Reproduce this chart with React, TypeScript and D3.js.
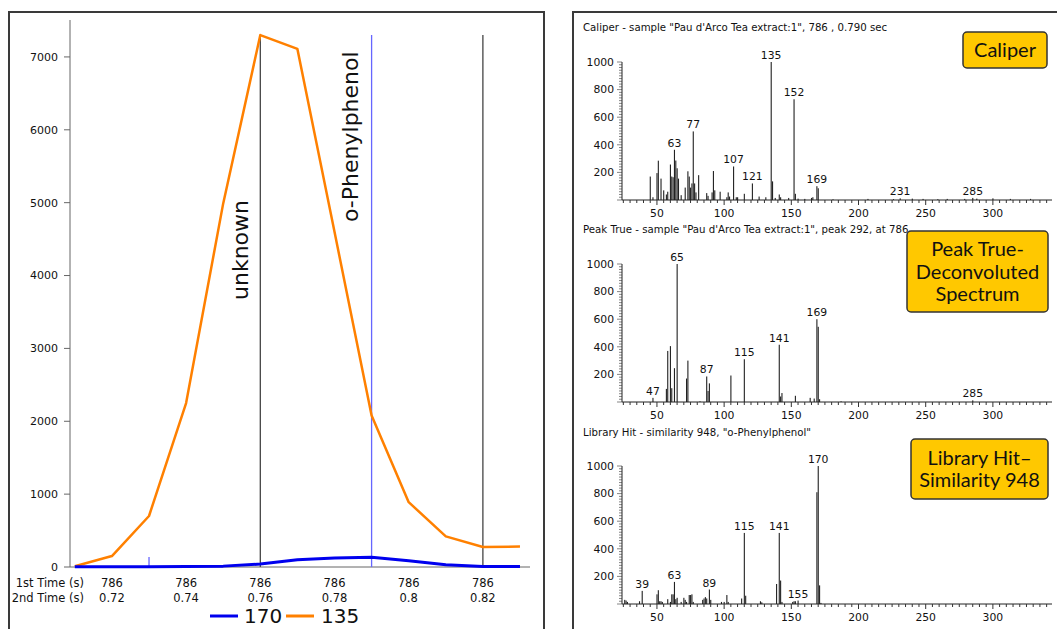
import React from "react";
import * as d3 from "d3";

// ---- chromatogram (left) ----
const times = [0.71, 0.72, 0.73, 0.74, 0.75, 0.76, 0.77, 0.78, 0.79, 0.8, 0.81, 0.82, 0.83];
const ion135 = [10, 150, 700, 2250, 4990, 7300, 7110, 4600, 2080, 890, 420, 275, 280];
const ion170 = [2, 3, 5, 8, 12, 40, 100, 125, 135, 85, 30, 8, 8];
const timeTicks = [0.72, 0.74, 0.76, 0.78, 0.8, 0.82];
const firstTimeLabels = ["786", "786", "786", "786", "786", "786"];
const secondTimeLabels = ["0.72", "0.74", "0.76", "0.78", "0.8", "0.82"];
const yTicks = [0, 1000, 2000, 3000, 4000, 5000, 6000, 7000];
const peakTimes = [0.76, 0.79, 0.82];
const peakNames = ["unknown", "o-Phenylphenol", ""];
const markerTimes = [0.73];
const seriesNames = ["170", "135"];

// ---- spectra (right) ----
const caliperPeaks: [number, number][] = [
  [45, 170], [47, 20], [50, 195], [51, 285], [53, 155], [55, 70], [57, 40], [58, 60],
  [60, 257], [61, 170], [62, 165], [63, 364], [64, 286], [65, 230], [66, 155], [68, 35],
  [71, 90], [73, 208], [74, 170], [75, 90], [76, 120], [77, 497], [78, 120], [79, 55],
  [81, 180], [87, 50], [88, 30], [91, 55], [92, 210], [93, 70], [97, 60], [102, 20],
  [103, 55], [104, 25], [107, 243], [109, 20], [110, 20], [115, 45], [121, 120], [126, 25],
  [131, 20], [135, 1000], [136, 135], [138, 15], [141, 40], [142, 20], [148, 15], [152, 730],
  [153, 45], [155, 10], [160, 8], [165, 15], [166, 20], [169, 100], [170, 85], [181, 5],
  [207, 8], [226, 6], [231, 12], [240, 10], [248, 8], [259, 6], [266, 8], [279, 8],
  [285, 15], [288, 10], [300, 12], [313, 8], [328, 8],
];
const caliperLabels = [63, 77, 107, 121, 135, 152, 169, 231, 285];

const peakTruePeaks: [number, number][] = [
  [47, 30], [57, 95], [58, 370], [60, 405], [61, 100], [63, 245], [65, 1000], [72, 170],
  [73, 300], [82, 5], [87, 185], [88, 80], [89, 135], [105, 192], [115, 310], [141, 415],
  [142, 40], [143, 65], [153, 45], [164, 30], [167, 25], [169, 600], [170, 545], [171, 20],
  [187, 5], [285, 12],
];
const peakTrueLabels = [47, 65, 87, 115, 141, 169, 285];

const libraryPeaks: [number, number][] = [
  [26, 30], [27, 25], [28, 15], [37, 20], [39, 95], [50, 70], [51, 100], [52, 20],
  [53, 20], [54, 15], [58, 35], [60, 15], [61, 70], [62, 70], [63, 160], [64, 35],
  [65, 45], [68, 15], [70, 45], [71, 30], [72, 15], [74, 65], [75, 65], [76, 70],
  [77, 15], [84, 30], [85, 40], [86, 50], [87, 40], [89, 105], [90, 30], [98, 15],
  [100, 15], [102, 65], [103, 15], [113, 40], [115, 515], [116, 60], [127, 20], [128, 12],
  [139, 145], [141, 515], [142, 170], [143, 15], [151, 15], [152, 20], [153, 20], [155, 25],
  [169, 810], [170, 1000], [171, 135], [172, 8],
];
const libraryLabels = [39, 63, 89, 115, 141, 155, 170];

const mzTicks = [50, 100, 150, 200, 250, 300];
const intensityTicks = [200, 400, 600, 800, 1000];

const sans = "DejaVu Sans, Verdana, sans-serif";
const badgeFont = "Lato, 'Century Gothic', sans-serif";

const Chromatogram = () => {
  const x = d3.scaleLinear().domain([0.7087, 0.8327]).range([70, 530]);
  const y = d3.scaleLinear().domain([0, 7500]).range([567, 20.5]);
  const line = d3.line<number>().x((_, i) => x(times[i])).y(d => y(d));

  return (
    <g>
      <rect x={9} y={12} width={535} height={640} fill="none" stroke="#3a3a3a" strokeWidth={2} />
      <line x1={70} x2={70} y1={20} y2={567} stroke="#666" />
      <line x1={70} x2={530} y1={567} y2={567} stroke="#666" />
      {yTicks.map(t => (
        <g key={t}>
          <line x1={64} x2={70} y1={y(t)} y2={y(t)} stroke="#666" />
          <text x={58} y={y(t)} dy="0.35em" textAnchor="end" fontSize={11} fontFamily={sans} fill="#111">{t}</text>
        </g>
      ))}
      {peakTimes.map((t, i) => (
        <line key={t} x1={x(t)} x2={x(t)} y1={y(7300)} y2={y(0)} stroke={i === 1 ? "#6666ff" : "#444"} strokeWidth={1.3} />
      ))}
      {markerTimes.map(t => (
        <line key={t} x1={x(t)} x2={x(t)} y1={y(0) - 10} y2={y(0)} stroke="#6666ff" strokeWidth={1.3} />
      ))}
      <text transform={`translate(${x(peakTimes[0]) - 12},300) rotate(-90)`} fontSize={22} fontFamily={sans} fill="#111">{peakNames[0]}</text>
      <text transform={`translate(${x(peakTimes[1]) - 14},222) rotate(-90)`} fontSize={22} fontFamily={sans} fill="#111">{peakNames[1]}</text>
      <path d={line(ion135) ?? ""} fill="none" stroke="#ff8000" strokeWidth={2.5} strokeLinejoin="round" />
      <path d={line(ion170) ?? ""} fill="none" stroke="#0000ee" strokeWidth={3} strokeLinejoin="round" />
      <text x={84} y={587} textAnchor="end" fontSize={11.5} fontFamily={sans} fill="#111">1st Time (s)</text>
      <text x={84} y={602} textAnchor="end" fontSize={11.5} fontFamily={sans} fill="#111">2nd Time (s)</text>
      {timeTicks.map((t, i) => (
        <g key={t}>
          <text x={x(t)} y={587} textAnchor="middle" fontSize={11.5} fontFamily={sans} fill="#111">{firstTimeLabels[i]}</text>
          <text x={x(t)} y={602} textAnchor="middle" fontSize={11.5} fontFamily={sans} fill="#111">{secondTimeLabels[i]}</text>
        </g>
      ))}
      <line x1={210} x2={238} y1={616} y2={616} stroke="#0000ee" strokeWidth={3} />
      <text x={244} y={623} fontSize={20} fontFamily={sans} fill="#111">{seriesNames[0]}</text>
      <line x1={286} x2={314} y1={616} y2={616} stroke="#ff8000" strokeWidth={3} />
      <text x={321} y={623} fontSize={20} fontFamily={sans} fill="#111">{seriesNames[1]}</text>
    </g>
  );
};

type SpectrumProps = {
  zero: number;
  title: string;
  titleY: number;
  peaks: [number, number][];
  labels: number[];
  badge: { x: number; y: number; w: number; h: number; lines: string[] };
};

const Spectrum = ({ zero, title, titleY, peaks, labels, badge }: SpectrumProps) => {
  const x = d3.scaleLinear().domain([24, 344]).range([622, 1052]);
  const y = d3.scaleLinear().domain([0, 1000]).range([zero, zero - 138]);
  const minorX = d3.range(25, 345, 5);
  const minorY = d3.range(0, 1001, 20);
  const lh = 22.5;
  const firstLine = badge.y + badge.h / 2 - ((badge.lines.length - 1) * lh) / 2;
  return (
    <g>
      <text x={583} y={titleY} fontSize={10.2} fontFamily={sans} fill="#111">{title}</text>
      {peaks.map(([mz, v]) => (
        <rect key={mz} x={x(mz) - 0.5} y={y(v)} width={1.1} height={zero - y(v)} fill="#222" />
      ))}
      {peaks.filter(p => labels.includes(p[0])).map(([mz, v]) => (
        <text key={mz} x={x(mz)} y={y(v) - 3} textAnchor="middle" fontSize={10.8} fontFamily={sans} fill="#111">{mz}</text>
      ))}
      <line x1={622} x2={622} y1={y(1000)} y2={zero} stroke="#222" />
      <line x1={622} x2={1052} y1={zero} y2={zero} stroke="#222" />
      {minorY.map(t => (
        <line key={t} x1={t % 200 === 0 ? 617 : 619} x2={622} y1={y(t)} y2={y(t)} stroke="#333" strokeWidth={0.6} />
      ))}
      {intensityTicks.map(t => (
        <text key={t} x={614} y={y(t)} dy="0.35em" textAnchor="end" fontSize={10.8} fontFamily={sans} fill="#111">{t}</text>
      ))}
      {minorX.map(t => (
        <line key={t} x1={x(t)} x2={x(t)} y1={zero} y2={zero + (t % 50 === 0 ? 5 : 3)} stroke="#333" />
      ))}
      {mzTicks.map(t => (
        <text key={t} x={x(t)} y={zero + 17} textAnchor="middle" fontSize={10.8} fontFamily={sans} fill="#111">{t}</text>
      ))}
      <rect x={badge.x} y={badge.y} width={badge.w} height={badge.h} rx={4} fill="#ffc800" stroke="#333" strokeWidth={1.5} />
      {badge.lines.map((l, i) => (
        <text key={i} x={badge.x + badge.w / 2} y={firstLine + i * lh} dy="0.35em" textAnchor="middle" fontSize={20} fontFamily={badgeFont} fill="#111">{l}</text>
      ))}
    </g>
  );
};

export default function App() {
  return (
    <svg width={1057} height={629} style={{ position: "absolute", left: 0, top: 0, background: "#fff" }}>
      <rect width={1057} height={629} fill="#fff" />
      <Chromatogram />
      <rect x={573} y={12} width={500} height={640} fill="none" stroke="#3a3a3a" strokeWidth={2} />
      <Spectrum
        zero={200}
        titleY={31}
        title={`Caliper - sample "Pau d'Arco Tea extract:1", 786 , 0.790 sec`}
        peaks={caliperPeaks}
        labels={caliperLabels}
        badge={{ x: 963, y: 32, w: 84, h: 36, lines: ["Caliper"] }}
      />
      <Spectrum
        zero={402}
        titleY={233}
        title={`Peak True - sample "Pau d'Arco Tea extract:1", peak 292, at 786`}
        peaks={peakTruePeaks}
        labels={peakTrueLabels}
        badge={{ x: 907, y: 231, w: 141, h: 81, lines: ["Peak True-", "Deconvoluted", "Spectrum"] }}
      />
      <Spectrum
        zero={604}
        titleY={436}
        title={`Library Hit - similarity 948, "o-Phenylphenol"`}
        peaks={libraryPeaks}
        labels={libraryLabels}
        badge={{ x: 911, y: 439, w: 137, h: 60, lines: ["Library Hit\u2013", "Similarity 948"] }}
      />
    </svg>
  );
}
